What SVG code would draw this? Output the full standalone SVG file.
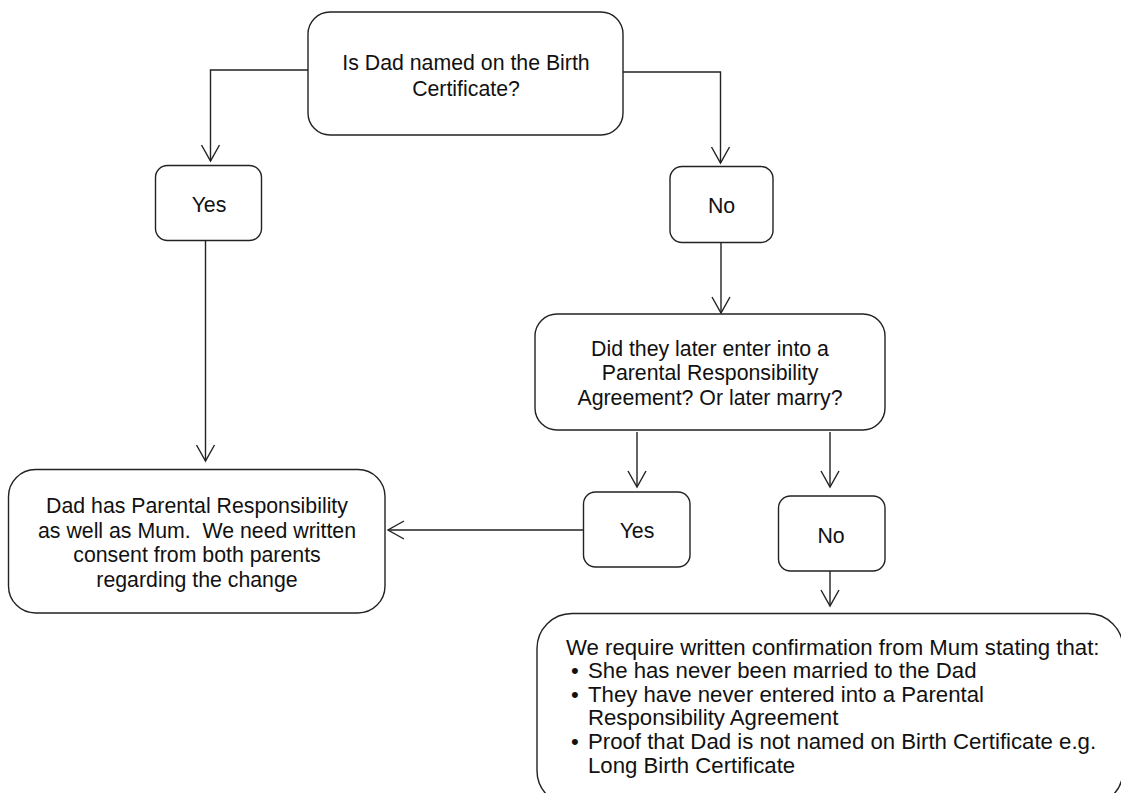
<svg xmlns="http://www.w3.org/2000/svg" width="1121" height="793" viewBox="0 0 1121 793">
<style>
.box{fill:#fff;stroke:#222;stroke-width:1.4}
.t{font-family:"Liberation Sans",Arial,sans-serif;font-size:21.3px;fill:#111}
.b{font-size:22.2px}
.c{text-anchor:middle}
.ln{fill:none;stroke:#222;stroke-width:1.4}
</style>
<defs>
<marker id="arr" markerUnits="userSpaceOnUse" markerWidth="24" markerHeight="24" viewBox="-18 -12 20 24" refX="0" refY="0" orient="auto">
<path d="M-16,-9 L0,0 L-16,9" fill="none" stroke="#222" stroke-width="1.4"/>
</marker>
</defs>
<rect width="1121" height="793" fill="#fff"/>
<g id="connectors">
<polyline class="ln" points="308,70 210.5,70 210.5,161" marker-end="url(#arr)"/>
<polyline class="ln" points="623,72 720.5,72 720.5,163" marker-end="url(#arr)"/>
<line class="ln" x1="205.5" y1="241" x2="205.5" y2="461" marker-end="url(#arr)"/>
<line class="ln" x1="721" y1="242" x2="721" y2="313" marker-end="url(#arr)"/>
<line class="ln" x1="637" y1="432" x2="637" y2="487" marker-end="url(#arr)"/>
<line class="ln" x1="830" y1="432" x2="830" y2="487" marker-end="url(#arr)"/>
<line class="ln" x1="830" y1="569" x2="830" y2="606" marker-end="url(#arr)"/>
<line class="ln" x1="583" y1="530" x2="388" y2="530" marker-end="url(#arr)"/>
</g>
<g id="q1">
<rect class="box" x="308" y="12" width="315" height="123" rx="22"/>
<text class="t c" x="466" y="70">Is Dad named on the Birth</text>
<text class="t c" x="466" y="96">Certificate?</text>
</g>
<g id="yes1">
<rect class="box" x="155.5" y="165.5" width="106" height="75" rx="12"/>
<text class="t c" x="209" y="212">Yes</text>
</g>
<g id="no1">
<rect class="box" x="670" y="166.5" width="103" height="76" rx="12"/>
<text class="t c" x="721.5" y="213">No</text>
</g>
<g id="q2">
<rect class="box" x="535" y="314" width="350" height="116" rx="22"/>
<text class="t c" x="710" y="356">Did they later enter into a</text>
<text class="t c" x="710" y="380">Parental Responsibility</text>
<text class="t c" x="710" y="405">Agreement? Or later marry?</text>
</g>
<g id="yes2">
<rect class="box" x="583.5" y="492" width="106.5" height="75" rx="12"/>
<text class="t c" x="637" y="538">Yes</text>
</g>
<g id="no2">
<rect class="box" x="778.5" y="496" width="106.5" height="75" rx="12"/>
<text class="t c" x="831" y="543">No</text>
</g>
<g id="result-yes">
<rect class="box" x="8.5" y="469.5" width="376.5" height="143.5" rx="27"/>
<text class="t c" x="197" y="513">Dad has Parental Responsibility</text>
<text class="t c" x="197" y="538" xml:space="preserve">as well as Mum.  We need written</text>
<text class="t c" x="197" y="562">consent from both parents</text>
<text class="t c" x="197" y="587">regarding the change</text>
</g>
<g id="result-no">
<rect class="box" x="537" y="613.5" width="586" height="192" rx="35"/>
<text class="t b" x="566" y="655">We require written confirmation from Mum stating that:</text>
<text class="t b" x="571" y="678">•</text>
<text class="t b" x="588" y="678">She has never been married to the Dad</text>
<text class="t b" x="571" y="702">•</text>
<text class="t b" x="588" y="702">They have never entered into a Parental</text>
<text class="t b" x="588" y="725">Responsibility Agreement</text>
<text class="t b" x="571" y="749">•</text>
<text class="t b" x="588" y="749">Proof that Dad is not named on Birth Certificate e.g.</text>
<text class="t b" x="588" y="773">Long Birth Certificate</text>
</g>
</svg>
